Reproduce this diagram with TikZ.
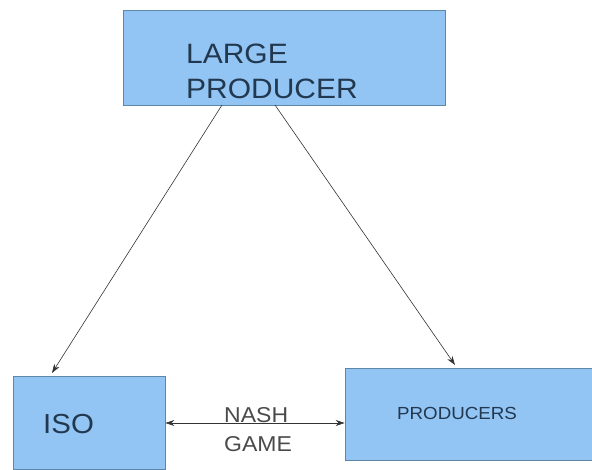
\documentclass[tikz,border=0pt]{standalone}
\usepackage{fontspec}
\setmainfont{Liberation Sans}
\usetikzlibrary{arrows.meta}
\definecolor{boxfill}{HTML}{92C4F4}
\definecolor{boxline}{HTML}{5E86A8}
\definecolor{txt}{HTML}{22384F}
\definecolor{gtxt}{HTML}{4A4A4A}
\tikzset{
  blk/.style={draw=boxline, fill=boxfill, line width=0.8pt, inner sep=0pt},
  lbl/.style={text=txt, inner sep=0pt, anchor=west, align=left, xscale=1.07},
  conn/.style={draw=black!80, line width=0.6pt, -{Stealth[length=9pt,width=6pt]}}
}
\begin{document}
\begin{tikzpicture}[x=1pt,y=-1pt]
\useasboundingbox (0,0) rectangle (592,470);
\node[blk, minimum width=322pt, minimum height=95pt] (lp) at (284,57.5) {};
\node[lbl, font=\fontsize{28}{35}\selectfont] (lpt) at (186,71) {LARGE\\PRODUCER};
\node[blk, minimum width=152pt, minimum height=93pt] (iso) at (89,422.5) {};
\node[lbl, font=\fontsize{27.5}{30}\selectfont] (isot) at (43,424.5) {ISO};
\node[blk, minimum width=247pt, minimum height=92pt] (prod) at (468.5,414) {};
\node[lbl, font=\fontsize{17.5}{18}\selectfont] (prodt) at (397,413) {PRODUCERS};
\node[lbl, text=gtxt, font=\fontsize{21.5}{29}\selectfont] (nash) at (224,430) {NASH\\GAME};
\coordinate (a1) at (222,105);
\coordinate (a2) at (275,105);
\draw[conn] (a1) -- (52,373);
\draw[conn] (a2) -- (455,365);
\draw[draw=black!80, line width=0.6pt, {Stealth[length=9pt,width=6pt]}-{Stealth[length=9pt,width=6pt]}] (iso.east |- 0,423) -- (prod.west |- 0,423);
\end{tikzpicture}
\end{document}
